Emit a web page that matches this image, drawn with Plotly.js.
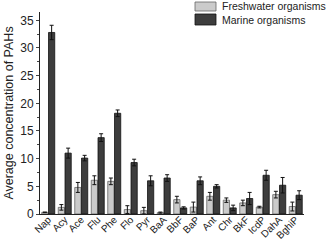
<!DOCTYPE html>
<html><head><meta charset="utf-8">
<script src="https://cdn.plot.ly/plotly-3.0.1.min.js"></script>
<style>html,body{margin:0;padding:0;background:#fff}#c{width:331px;height:241px}</style>
</head><body><div id="c"></div>
<script>
const categories = ["Nap","Acy","Ace","Flu","Phe","Flo","Pyr","BaA","BbF","BaP","Ant","Chr","BkF","IcdP","DahA","BghiP"];
const freshwater = [0.3,1.2,4.8,6.1,5.9,0.8,0.6,0.25,2.6,1.25,3.2,2.5,2.0,1.25,3.5,1.35];
const freshwaterErr = [0.05,0.5,0.9,0.8,0.6,0.7,0.6,0.1,0.6,0.9,0.7,0.4,0.5,0.15,0.6,0.8];
const marine = [32.8,11.0,10.1,13.8,18.2,9.3,6.0,6.5,1.1,6.0,5.0,1.1,2.8,7.0,5.2,3.4];
const marineErr = [1.3,0.9,0.5,0.7,0.6,0.6,0.9,0.6,0.2,0.7,0.3,0.5,1.1,0.9,1.4,0.8];
const seriesNames = ["Freshwater organisms","Marine organisms"];
const fillColors = ["#cbcbcb","#3d3d3d"];
const edgeColors = ["#666","#111"];

const font = "Liberation Sans, Arial, sans-serif";
const traces = [
  {type:"bar", name:seriesNames[0], x:categories, y:freshwater,
   marker:{color:fillColors[0], line:{color:edgeColors[0], width:0.8}},
   error_y:{type:"data", array:freshwaterErr, visible:true, color:"#111", thickness:1, width:2}},
  {type:"bar", name:seriesNames[1], x:categories, y:marine,
   marker:{color:fillColors[1], line:{color:edgeColors[1], width:0.8}},
   error_y:{type:"data", array:marineErr, visible:true, color:"#111", thickness:1, width:2}}
];
// plot area: x 40..304, y 12..214 (px)
const px = v => (v-40)/264, py = v => (214-v)/202;
const shapes = [], annotations = [];
[[2,11],[14,25]].forEach((r,i)=>{
  shapes.push({type:"rect", xref:"paper", yref:"paper", x0:px(195), x1:px(216), y0:py(r[1]), y1:py(r[0]),
    fillcolor:fillColors[i], line:{color:edgeColors[i], width:0.8}});
  annotations.push({xref:"paper", yref:"paper", x:px(220), y:py((r[0]+r[1])/2), xanchor:"left", yanchor:"middle",
    text:seriesNames[i], showarrow:false, font:{size:10.5, color:"#222"}});
});
const layout = {
  width:331, height:241,
  margin:{l:40, r:27, t:12, b:27},
  paper_bgcolor:"#fff", plot_bgcolor:"#fff",
  font:{family:font, size:11, color:"#222"},
  barmode:"group", bargap:0.18, bargroupgap:0.08,
  showlegend:false, shapes, annotations,
  xaxis:{showline:true, linecolor:"#222", linewidth:1, ticks:"", automargin:false,
         tickangle:-45, tickfont:{size:10}, ticklabelstandoff:-5, showgrid:false, zeroline:false},
  yaxis:{range:[0,36.5], showline:true, linecolor:"#222", linewidth:1, automargin:false,
         ticks:"outside", ticklen:3, dtick:5, tickfont:{size:12}, showgrid:false, zeroline:false,
         minor:{dtick:2.5, ticks:"outside", ticklen:2, showgrid:false},
         title:{text:"Average concentration of PAHs", font:{size:12.5}, standoff:3}}
};
Plotly.newPlot("c", traces, layout, {displayModeBar:false, staticPlot:true});
</script></body></html>
